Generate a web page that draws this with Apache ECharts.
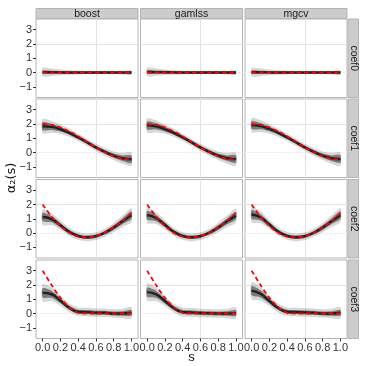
<!DOCTYPE html>
<html>
<head>
<meta charset="utf-8">
<script src="https://cdn.jsdelivr.net/npm/echarts@6/dist/echarts.min.js"></script>
<style>
  html, body { margin: 0; padding: 0; background: #fff; }
  #chart { width: 366px; height: 366px; }
</style>
</head>
<body>
<div id="chart"></div>
<script>
// facets
const methods = ['boost', 'gamlss', 'mgcv'];
const coefs = ['coef0', 'coef1', 'coef2', 'coef3'];
const sValues = [0, 0.1, 0.2, 0.3, 0.4, 0.5, 0.6, 0.7, 0.8, 0.9, 1.0];
const xTicks = [0, 0.2, 0.4, 0.6, 0.8, 1.0];
const yTicks = [-1, 0, 1, 2, 3];

// true functions (red dashed)
const truth0 = [0, 0, 0, 0, 0, 0, 0, 0, 0, 0, 0];
const truth1 = [2.0, 1.94, 1.76, 1.48, 1.14, 0.75, 0.36, 0.02, -0.26, -0.44, -0.5];
const truth2 = [2.0, 1.15, 0.5, 0.02, -0.25, -0.32, -0.22, 0.02, 0.4, 0.85, 1.4];
const truth3 = [3.0, 2.0, 1.1, 0.45, 0.05, 0, 0, 0, 0, 0, 0];

// centre of the estimated curves, per method
const boost0 = [0.03, 0.02, 0.01, 0, 0, 0, 0, 0, 0, 0, 0];
const gamlss0 = [0.04, 0.03, 0.02, 0.01, 0, 0, 0, 0, 0, 0, 0];
const mgcv0 = [0.03, 0.02, 0.01, 0, 0, 0, 0, 0, 0, 0, 0];
const boost1 = [1.84, 1.8, 1.63, 1.38, 1.06, 0.72, 0.36, 0.05, -0.22, -0.4, -0.47];
const gamlss1 = [1.9, 1.84, 1.64, 1.38, 1.06, 0.72, 0.36, 0.05, -0.22, -0.4, -0.46];
const mgcv1 = [1.92, 1.85, 1.65, 1.38, 1.06, 0.72, 0.36, 0.05, -0.22, -0.4, -0.46];
const boost2 = [1.12, 0.98, 0.55, 0.08, -0.2, -0.3, -0.22, 0.02, 0.38, 0.82, 1.25];
const gamlss2 = [1.25, 1.05, 0.58, 0.08, -0.2, -0.3, -0.22, 0.02, 0.38, 0.82, 1.22];
const mgcv2 = [1.3, 1.1, 0.6, 0.1, -0.2, -0.3, -0.22, 0.02, 0.38, 0.82, 1.25];
const boost3 = [1.45, 1.35, 0.9, 0.4, 0.12, 0.1, 0.06, 0.05, 0.0, 0.0, 0.05];
const gamlss3 = [1.5, 1.35, 0.88, 0.38, 0.1, 0.08, 0.04, 0.02, 0.0, 0.0, 0.03];
const mgcv3 = [1.6, 1.38, 0.88, 0.38, 0.12, 0.1, 0.08, 0.05, 0.0, 0.0, 0.05];

// spread of the replicate curves (half width), per coefficient row
const outer0 = [0.3, 0.26, 0.2, 0.16, 0.13, 0.12, 0.12, 0.12, 0.12, 0.13, 0.15];
const inner0 = [0.12, 0.11, 0.1, 0.09, 0.09, 0.09, 0.09, 0.09, 0.09, 0.09, 0.1];
const outer1 = [0.5, 0.42, 0.33, 0.28, 0.25, 0.25, 0.25, 0.27, 0.3, 0.38, 0.47];
const inner1 = [0.28, 0.22, 0.16, 0.13, 0.12, 0.12, 0.12, 0.13, 0.15, 0.2, 0.27];
const outer2 = [0.55, 0.42, 0.32, 0.28, 0.27, 0.27, 0.27, 0.28, 0.32, 0.4, 0.5];
const inner2 = [0.3, 0.22, 0.16, 0.13, 0.12, 0.12, 0.12, 0.13, 0.16, 0.2, 0.27];
const outer3 = [0.6, 0.48, 0.35, 0.3, 0.3, 0.3, 0.3, 0.3, 0.3, 0.33, 0.4];
const inner3 = [0.32, 0.25, 0.17, 0.14, 0.14, 0.14, 0.14, 0.14, 0.14, 0.16, 0.2];

const truths = [truth0, truth1, truth2, truth3];
const centres = [
  [boost0, gamlss0, mgcv0],
  [boost1, gamlss1, mgcv1],
  [boost2, gamlss2, mgcv2],
  [boost3, gamlss3, mgcv3]
];
const outers = [outer0, outer1, outer2, outer3];
const inners = [inner0, inner1, inner2, inner3];

// layout
const colLeft = [36, 140.5, 245];
const rowTop = [19, 99, 179.5, 260];
const panelW = 102;
const panelH = 78.5;
const FONT = '"Liberation Sans", Arial, sans-serif';
const T = 'rgba(0,0,0,0)';
const MAJOR = '#E3E3E3';
const MINOR = '#F2F2F2';

const chart = echarts.init(document.getElementById('chart'));

const grids = [], xAxes = [], yAxes = [], series = [];
const pairs = arr => sValues.map((s, i) => [s, arr[i]]);

// band between centre - half and centre + half, drawn as one polygon through the axes
function bandSeries(p, centre, half, color) {
  const rows = sValues.map((s, i) => [s, centre[i] - half[i], centre[i] + half[i]]);
  return {
    type: 'custom', xAxisIndex: p, yAxisIndex: p, silent: true,
    data: rows,
    encode: { x: 0, y: [1, 2] },
    renderItem: (params, api) => {
      if (params.dataIndex !== 0) return null;
      const lower = rows.map(d => api.coord([d[0], d[1]]));
      const upper = rows.map(d => api.coord([d[0], d[2]])).reverse();
      return {
        type: 'polygon',
        shape: { points: lower.concat(upper), smooth: 0.25 },
        style: { fill: color, stroke: null }
      };
    }
  };
}

coefs.forEach((c, r) => {
  methods.forEach((m, k) => {
    const p = grids.length;
    grids.push({
      left: colLeft[k], top: rowTop[r], width: panelW, height: panelH,
      show: true, backgroundColor: '#fff', borderColor: '#B5B5B5', borderWidth: 1
    });
    xAxes.push({
      type: 'value', gridIndex: p, min: -0.075, max: 1.075, interval: 0.025,
      axisLine: { show: false, onZero: false },
      axisTick: { show: r === 3, customValues: xTicks, length: 3, lineStyle: { color: '#333' } },
      axisLabel: {
        show: r === 3, customValues: xTicks, margin: 4,
        formatter: v => v.toFixed(1), fontSize: 11, color: '#333', fontFamily: FONT
      },
      splitLine: { show: true, lineStyle: { color: [T, T, T, MAJOR, T, T, T, MINOR], width: 1 } }
    });
    yAxes.push({
      type: 'value', gridIndex: p, min: -1.75, max: 3.75, interval: 0.25,
      axisLine: { show: false, onZero: false },
      axisTick: { show: k === 0, customValues: yTicks, length: 3, lineStyle: { color: '#333' } },
      axisLabel: {
        show: k === 0, customValues: yTicks, margin: 4,
        formatter: v => (v < 0 ? '\u2212' + (-v) : String(v)),
        fontSize: 11, color: '#333', fontFamily: FONT
      },
      splitLine: { show: true, lineStyle: { color: [T, MINOR, T, MAJOR], width: 1 } }
    });

    const centre = centres[r][k];
    const base = { type: 'line', xAxisIndex: p, yAxisIndex: p, symbol: 'none', smooth: true, silent: true };
    series.push(bandSeries(p, centre, outers[r], 'rgba(0,0,0,0.16)'));
    series.push(bandSeries(p, centre, inners[r], 'rgba(0,0,0,0.42)'));
    // dense core
    series.push(Object.assign({}, base, {
      data: pairs(centre), lineStyle: { color: '#111', width: 2.4, opacity: 0.85 }
    }));
    // true function
    series.push(Object.assign({}, base, {
      data: pairs(truths[r]), smooth: 0.3,
      lineStyle: { color: '#FF0000', width: 1.8, type: [4.5, 3] }
    }));
  });
});

const graphics = [];
methods.forEach((m, k) => {
  graphics.push({
    type: 'rect', shape: { x: colLeft[k], y: 8.5, width: panelW, height: 10 },
    style: { fill: '#CCCCCC', stroke: '#B5B5B5', lineWidth: 1 }, silent: true
  });
  graphics.push({
    type: 'text', x: colLeft[k] + panelW / 2, y: 14,
    style: { text: m, font: '10.5px ' + FONT, fill: '#1a1a1a', align: 'center', verticalAlign: 'middle' },
    silent: true
  });
});
coefs.forEach((c, r) => {
  graphics.push({
    type: 'rect', shape: { x: 348, y: rowTop[r], width: 10.5, height: panelH },
    style: { fill: '#CCCCCC', stroke: '#B5B5B5', lineWidth: 1 }, silent: true
  });
  graphics.push({
    type: 'text', x: 353.5, y: rowTop[r] + panelH / 2, rotation: -Math.PI / 2,
    style: { text: c, font: '10.5px ' + FONT, fill: '#1a1a1a', align: 'center', verticalAlign: 'middle' },
    silent: true
  });
});
graphics.push({
  type: 'text', x: 12, y: 178, rotation: Math.PI / 2,
  style: { text: '\u03b1\u2082(s)', font: '13px "DejaVu Sans", ' + FONT, fill: '#111', align: 'center', verticalAlign: 'middle' },
  silent: true
});
graphics.push({
  type: 'text', x: 191.5, y: 357,
  style: { text: 's', font: '13px ' + FONT, fill: '#111', align: 'center', verticalAlign: 'middle' },
  silent: true
});

chart.setOption({
  animation: false,
  backgroundColor: '#fff',
  grid: grids,
  xAxis: xAxes,
  yAxis: yAxes,
  series: series,
  graphic: graphics
});
</script>
</body>
</html>
